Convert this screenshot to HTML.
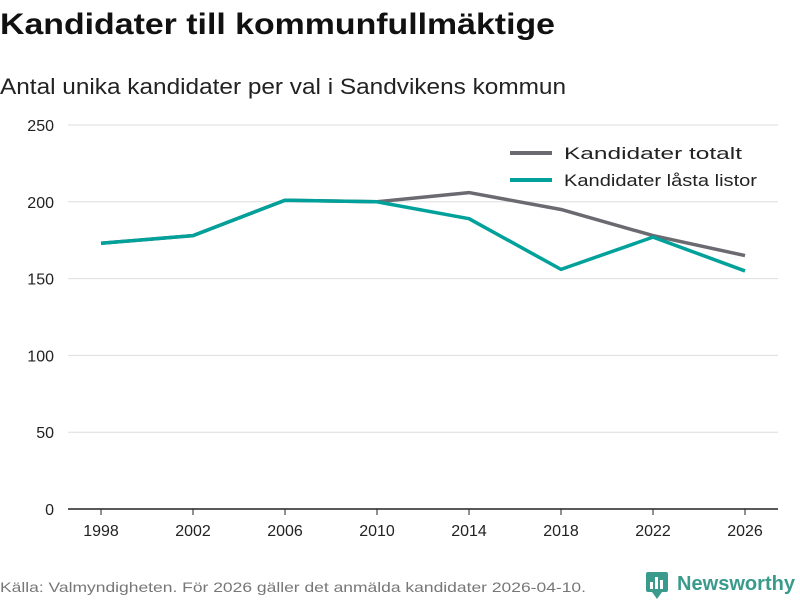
<!DOCTYPE html>
<html><head><meta charset="utf-8"><style>
body{margin:0;background:#fff;width:800px;height:600px;overflow:hidden;font-family:"Liberation Sans",sans-serif;}
svg{display:block}
</style></head><body>
<svg width="800" height="600">
<text x="0" y="34" font-size="30" font-weight="bold" fill="#111" textLength="555" lengthAdjust="spacingAndGlyphs">Kandidater till kommunfullmäktige</text>
<text x="0" y="94" font-size="22" fill="#222" textLength="566" lengthAdjust="spacingAndGlyphs">Antal unika kandidater per val i Sandvikens kommun</text>
<g id="grid"></g><g id="xaxis"></g><g id="series"></g>
<g>
<line x1="510" y1="153" x2="552" y2="153" stroke="#6b6a70" stroke-width="4"/>
<text x="564" y="159" font-size="17" fill="#222" textLength="178" lengthAdjust="spacingAndGlyphs">Kandidater totalt</text>
<line x1="510" y1="180" x2="552" y2="180" stroke="#00a19a" stroke-width="4"/>
<text x="564" y="186" font-size="17" fill="#222" textLength="193" lengthAdjust="spacingAndGlyphs">Kandidater låsta listor</text>
</g>
<text x="0" y="592" font-size="14" fill="#777" textLength="586" lengthAdjust="spacingAndGlyphs">Källa: Valmyndigheten. För 2026 gäller det anmälda kandidater 2026-04-10.</text>
<g>
<rect x="646" y="572" width="22" height="20" rx="2" fill="#3a9a8c"/>
<path d="M652 592 L657 599 L662 592Z" fill="#3a9a8c"/>
<rect x="650" y="582" width="3" height="7" fill="#fff"/><rect x="655" y="577" width="3" height="12" fill="#fff"/><rect x="660" y="580" width="3" height="9" fill="#fff"/>
<text x="677" y="590" font-size="20" font-weight="bold" fill="#3a9a8c" textLength="118" lengthAdjust="spacingAndGlyphs">Newsworthy</text>
</g>
</svg>
<script>
const years=[1998,2002,2006,2010,2014,2018,2022,2026];
const totalt=[173,178,201,200,206,195,178,165];
const lasta=[173,178,201,200,189,156,177,155];
const yTicks=[0,50,100,150,200,250];
const NS="http://www.w3.org/2000/svg";
const x=v=>101+(v-1998)*(644/28);
const y=v=>509-v*(384/250);
function mk(tag,attrs,parent){const e=document.createElementNS(NS,tag);for(const k in attrs)e.setAttribute(k,attrs[k]);parent.appendChild(e);return e;}
const grid=document.getElementById('grid');
yTicks.forEach(t=>{
 const l=mk('line',{x1:68,x2:778,y1:y(t),y2:y(t),stroke:t===0?'#222':'#ddd','stroke-width':t===0?1.5:1},grid);
 
 
 const tx=mk('text',{x:54,y:y(t)+6,'font-size':16,fill:'#222','text-anchor':'end'},grid);
 tx.textContent=t;
 
 
});
const xa=document.getElementById('xaxis');
years.forEach(yr=>{
 const tk=mk('line',{x1:x(yr),x2:x(yr),y1:509,y2:515,stroke:'#222'},xa);
 
 
 const tx=mk('text',{x:x(yr),y:536,'font-size':16,fill:'#222','text-anchor':'middle'},xa);
 tx.textContent=yr;
 
 
});
const s=document.getElementById('series');
[[totalt,'#6b6a70','line-totalt'],[lasta,'#00a19a','line-lasta']].forEach(([d,c,n])=>{
 const p=mk('polyline',{points:d.map((v,i)=>x(years[i])+','+y(v)).join(' '),fill:'none',stroke:c,'stroke-width':3.5,'stroke-linejoin':'round'},s);
 
 
});
</script>
</body></html>
